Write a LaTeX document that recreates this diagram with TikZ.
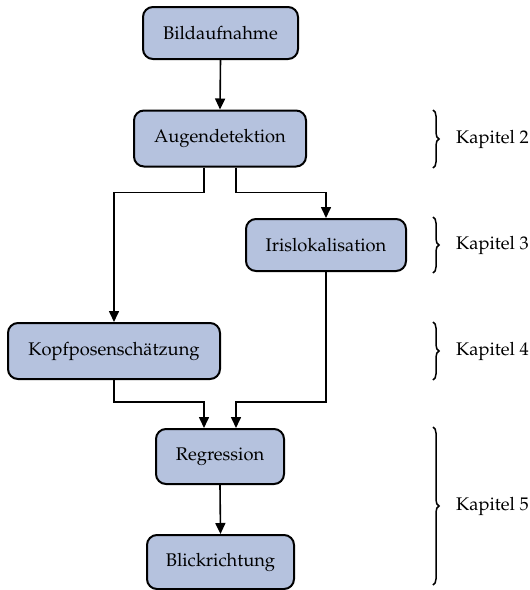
\documentclass[tikz,border=0pt]{standalone}
\usepackage[T1]{fontenc}
\usepackage{mathpazo}
\usetikzlibrary{arrows.meta,calc,decorations.pathreplacing}

\definecolor{boxfill}{RGB}{181,194,222}

\tikzset{
  stage/.style={draw=black, line width=2pt, fill=boxfill, rounded corners=10pt,
    inner sep=0pt, align=center, font=\fontsize{18.3}{22}\selectfont},
  flow/.style={line width=1.6pt, -{Triangle[length=11pt,width=10pt]}},
  chapbrace/.style={decorate, line width=1.5pt, decoration={brace, amplitude=6pt}},
  chaplabel/.style={anchor=west, inner sep=0pt, font=\fontsize{18.3}{22}\selectfont}
}

\begin{document}
\begin{tikzpicture}[x=1pt,y=-1pt]
  \useasboundingbox (0,0) rectangle (530,590);

  % processing stages
  \node[stage, minimum width=155pt, minimum height=52pt] (bild)  at (220.5,33)  {Bildaufnahme};
  \node[stage, minimum width=172pt, minimum height=56pt] (augen) at (220,138.5)  {Augendetektion};
  \node[stage, minimum width=160pt, minimum height=52pt] (iris)  at (326,245)   {Irislokalisation};
  \node[stage, minimum width=212pt, minimum height=56pt] (kopf)  at (114,351)   {Kopfposensch\"atzung};
  \node[stage, minimum width=128pt, minimum height=55pt] (regr)  at (220,456.5) {Regression};
  \node[stage, minimum width=147pt, minimum height=54pt] (blick) at (220.5,562) {Blickrichtung};

  % data flow
  \draw[flow] (bild.south) -- (augen.north);
  \draw[flow] ([xshift=-16pt]augen.south) -- ++(0,25) -| (kopf.north);
  \draw[flow] ([xshift=16pt]augen.south) -- ++(0,25) -| (iris.north);
  \draw[flow] (kopf.south) |- ($(regr.north)+(-16,-26)$) -- ([xshift=-16pt]regr.north);
  \draw[flow] (iris.south) |- ($(regr.north)+(16,-26)$) -- ([xshift=16pt]regr.north);
  \draw[flow] (regr.south) -- (blick.north);

  % chapter braces
  \draw[chapbrace] (433,110) -- (433,168);
  \node[chaplabel] (k2) at (456,139) {Kapitel 2};
  \draw[chapbrace] (433,217) -- (433,273);
  \node[chaplabel] (k3) at (456,245) {Kapitel 3};
  \draw[chapbrace] (433,322) -- (433,380);
  \node[chaplabel] (k4) at (456,351) {Kapitel 4};
  \draw[chapbrace] (433,427) -- (433,585);
  \node[chaplabel] (k5) at (456,506) {Kapitel 5};
\end{tikzpicture}
\end{document}
